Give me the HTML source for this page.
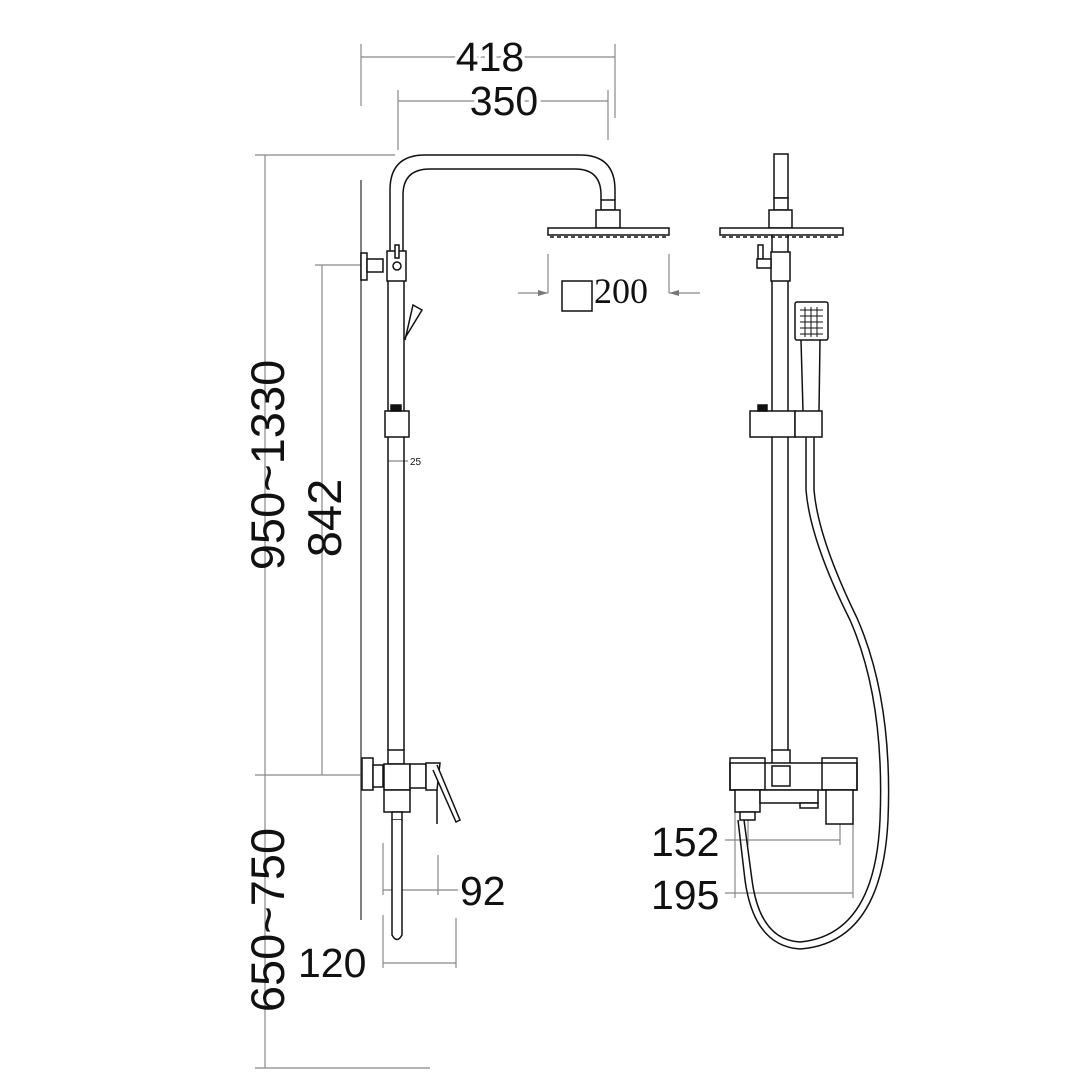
<!DOCTYPE html>
<html><head><style>html,body{margin:0;padding:0;background:#fff}svg{display:block}</style></head><body>
<svg width="1090" height="1090" viewBox="0 0 1090 1090" xmlns="http://www.w3.org/2000/svg">
<defs>
<marker id="a" markerWidth="10" markerHeight="6" refX="10" refY="3" orient="auto" markerUnits="userSpaceOnUse"><path d="M0,0 L10,3 L0,6z" fill="#777"/></marker>
</defs>
<g stroke="#888" stroke-width="1.2" fill="none">
<line x1="361" y1="44" x2="361" y2="106"/><line x1="615" y1="44" x2="615" y2="118"/>
<line x1="361" y1="57" x2="615" y2="57"/>
<line x1="398" y1="90" x2="398" y2="150"/><line x1="608" y1="90" x2="608" y2="140"/>
<line x1="398" y1="101" x2="608" y2="101"/>
<line x1="255" y1="155" x2="395" y2="155"/>
<line x1="265" y1="155" x2="265" y2="1068"/>
<line x1="255" y1="775" x2="372" y2="775"/>
<line x1="255" y1="1068" x2="430" y2="1068"/>
<line x1="315" y1="265" x2="367" y2="265"/>
<line x1="322" y1="265" x2="322" y2="775"/>
<line x1="548" y1="254" x2="548" y2="293"/><line x1="669" y1="254" x2="669" y2="293"/>
<line x1="518" y1="293" x2="548" y2="293" marker-end="url(#a)"/>
<line x1="700" y1="293" x2="669" y2="293" marker-end="url(#a)"/>
<line x1="388" y1="461" x2="408" y2="461"/>
<line x1="383" y1="843" x2="383" y2="895"/><line x1="438" y1="855" x2="438" y2="895"/>
<line x1="383" y1="890" x2="458" y2="890"/>
<line x1="383" y1="915" x2="383" y2="968"/><line x1="456" y1="918" x2="456" y2="968"/>
<line x1="383" y1="963" x2="456" y2="963"/>
<line x1="748" y1="775" x2="748" y2="845"/><line x1="840" y1="775" x2="840" y2="845"/>
<line x1="725" y1="840" x2="840" y2="840"/>
<line x1="735" y1="812" x2="735" y2="898"/><line x1="853" y1="824" x2="853" y2="898"/>
<line x1="725" y1="893" x2="853" y2="893"/>
</g>
<g stroke="#111" stroke-width="1.5" fill="#fff">
<line x1="361" y1="180" x2="361" y2="920" stroke="#555"/>
<path d="M390,251 V190 Q390,155 425,155 H580 Q615,155 615,190 V200" fill="none"/>
<path d="M403,251 V195 Q403,169 430,169 H575 Q601,169 601,195 V200" fill="none"/>
<rect x="601" y="200" width="14" height="10"/>
<rect x="596" y="210" width="24" height="18"/>
<rect x="548" y="228" width="121" height="7"/>
<line x1="550" y1="237" x2="667" y2="237" stroke-dasharray="4 3"/>
<rect x="361" y="253" width="6" height="27"/>
<rect x="367" y="259" width="16" height="13"/>
<rect x="387" y="251" width="19" height="30"/>
<rect x="395" y="245" width="4" height="13"/>
<circle cx="397" cy="266" r="4"/>
<line x1="388" y1="281" x2="388" y2="750"/><line x1="404" y1="281" x2="404" y2="750"/>
<path d="M405,340 L413,305 L422,310 L405,338" />
<rect x="385" y="411" width="24" height="26"/>
<rect x="391" y="405" width="10" height="6" fill="#111"/>
<rect x="388" y="750" width="16" height="14"/>
<rect x="362" y="758" width="11" height="32"/>
<rect x="373" y="765" width="10" height="22"/>
<rect x="384" y="764" width="26" height="26"/>
<rect x="384" y="790" width="26" height="22"/>
<rect x="410" y="764" width="16" height="24"/>
<path d="M426,763 H440 L437,790 H426z"/>
<path d="M437,765 L460,820 L456,822 L433,770" fill="#fff"/>
<line x1="437" y1="790" x2="437" y2="824"/>
<rect x="392" y="812" width="10" height="8"/>
<path d="M392,820 V935 Q397,944 402,935 V820" fill="#fff"/>
<rect x="774" y="154" width="14" height="44"/>
<rect x="774" y="198" width="14" height="12"/>
<rect x="769" y="210" width="23" height="18"/>
<rect x="720" y="228" width="123" height="7"/>
<line x1="722" y1="237" x2="841" y2="237" stroke-dasharray="4 3"/>
<line x1="772" y1="235" x2="772" y2="752"/><line x1="788" y1="235" x2="788" y2="752"/>
<rect x="771" y="252" width="19" height="29"/>
<rect x="758" y="245" width="5" height="14"/>
<rect x="757" y="259" width="14" height="9"/>
<path d="M801,340 L803,411 M820,340 L819,411" fill="none"/>
<rect x="795" y="302" width="33" height="38" rx="2"/>
<g stroke-width="1" fill="none">
<line x1="800" y1="310" x2="823" y2="310"/><line x1="800" y1="316" x2="823" y2="316"/><line x1="800" y1="322" x2="823" y2="322"/><line x1="800" y1="328" x2="823" y2="328"/><line x1="800" y1="334" x2="823" y2="334"/>
<line x1="805" y1="307" x2="805" y2="337"/><line x1="811" y1="307" x2="811" y2="337"/><line x1="817" y1="307" x2="817" y2="337"/>
</g>
<rect x="750" y="411" width="45" height="26"/>
<rect x="795" y="411" width="27" height="26"/>
<rect x="758" y="405" width="9" height="6" fill="#111"/>
<path d="M806,437 V490 Q810,540 850,620 Q885,700 880,820 Q875,935 800,942 Q760,940 752,880 L744,820" fill="none"/>
<path d="M814,437 V490 Q818,538 857,618 Q893,700 888,820 Q882,943 800,949 Q754,946 745,880 L738,820" fill="none"/>
<rect x="772" y="750" width="18" height="14"/>
<rect x="730" y="763" width="127" height="27"/>
<rect x="730" y="758" width="35" height="32" fill="none"/>
<rect x="822" y="758" width="35" height="32" fill="none"/>
<rect x="826" y="790" width="27" height="34"/>
<rect x="772" y="766" width="18" height="20"/>
<rect x="735" y="790" width="25" height="22"/>
<rect x="760" y="790" width="58" height="13"/>
<rect x="800" y="803" width="18" height="5"/>
<rect x="740" y="812" width="15" height="8"/>
</g>
<g font-family="Liberation Sans, sans-serif" font-size="41" fill="#111">
<text x="490" y="71" text-anchor="middle" stroke="#fff" stroke-width="8" paint-order="stroke">418</text>
<text x="504" y="115" text-anchor="middle" stroke="#fff" stroke-width="8" paint-order="stroke">350</text>
<text transform="translate(284,465) rotate(-90)" text-anchor="middle" font-size="47">950~1330</text>
<text transform="translate(341,518) rotate(-90)" text-anchor="middle" font-size="47">842</text>
<text transform="translate(284,920) rotate(-90)" text-anchor="middle" font-size="47">650~750</text>
<text x="460" y="905">92</text>
<text x="298" y="977">120</text>
<text x="651" y="856">152</text>
<text x="651" y="909">195</text>
<text x="410" y="465" font-size="10">25</text>
<text x="594" y="303" font-family="Liberation Serif, serif" font-size="36">200</text>
</g>
<rect x="562" y="281" width="30" height="30" fill="none" stroke="#111" stroke-width="1.5"/>
</svg>
</body></html>
